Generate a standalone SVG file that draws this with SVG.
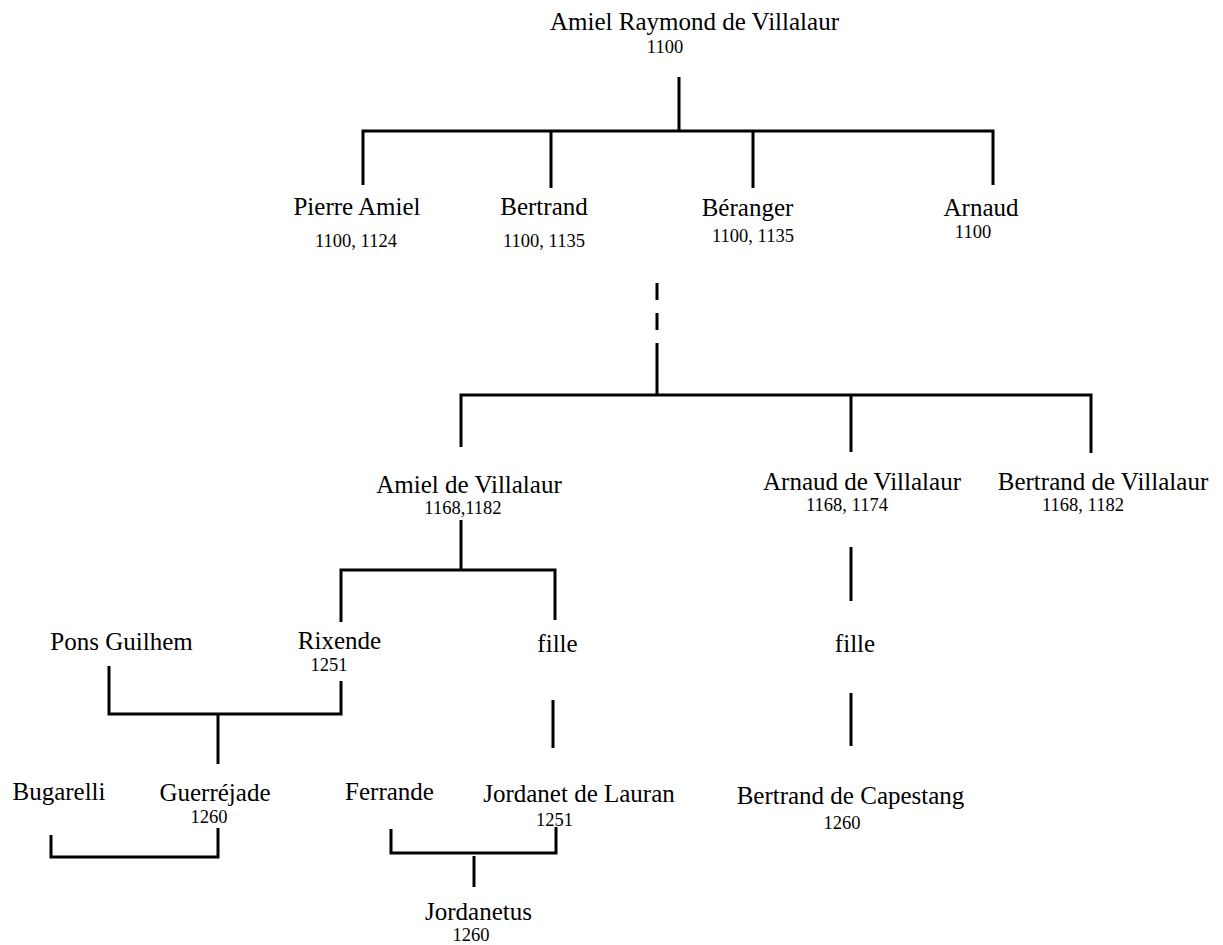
<svg xmlns="http://www.w3.org/2000/svg" width="1223" height="945" viewBox="0 0 1223 945">
<style>
.n{font-family:"Liberation Serif","Times New Roman",serif;font-size:25px;fill:#000;text-anchor:middle}
.d{font-family:"Liberation Serif","Times New Roman",serif;font-size:18.5px;fill:#000;text-anchor:middle}
.c{stroke:#000;stroke-width:3;fill:none;stroke-linecap:butt;stroke-linejoin:miter}
</style>
<rect width="1223" height="945" fill="#fff"/>
<g id="connectors" class="c">
<path d="M679 77V131M363 185V131H993V185M551 131V188M753 131V188"/>
<path d="M657 283V300M657 313V330M657 343V395M461 447V395H1091V453M851 395V452"/>
<path d="M461 520V570M341 622V570H555V620"/>
<path d="M109 666V714H341V681M218 714V764"/>
<path d="M553 700V748"/>
<path d="M851 547V601M851 693V746"/>
<path d="M51 835V857H218V828"/>
<path d="M391 829V853H556V827M474 856V887"/>
</g>
<g id="amiel-raymond"><text class="n" x="694.5" y="30">Amiel Raymond de Villalaur</text><text class="d" x="665" y="53">1100</text></g>
<g id="pierre-amiel"><text class="n" x="357" y="215">Pierre Amiel</text><text class="d" x="356" y="247">1100, 1124</text></g>
<g id="bertrand"><text class="n" x="544" y="215">Bertrand</text><text class="d" x="544" y="247">1100, 1135</text></g>
<g id="beranger"><text class="n" x="747.5" y="216">Béranger</text><text class="d" x="753" y="242">1100, 1135</text></g>
<g id="arnaud"><text class="n" x="981" y="216">Arnaud</text><text class="d" x="973" y="238">1100</text></g>
<g id="amiel-villalaur"><text class="n" x="469" y="493">Amiel de Villalaur</text><text class="d" x="463" y="514">1168,1182</text></g>
<g id="arnaud-villalaur"><text class="n" x="862" y="490">Arnaud de Villalaur</text><text class="d" x="847" y="511">1168, 1174</text></g>
<g id="bertrand-villalaur"><text class="n" x="1103" y="490">Bertrand de Villalaur</text><text class="d" x="1083" y="511">1168, 1182</text></g>
<g id="pons-guilhem"><text class="n" x="121.5" y="650">Pons Guilhem</text></g>
<g id="rixende"><text class="n" x="339.5" y="649">Rixende</text><text class="d" x="329" y="671">1251</text></g>
<g id="fille1"><text class="n" x="557.5" y="652">fille</text></g>
<g id="fille2"><text class="n" x="855" y="652">fille</text></g>
<g id="bugarelli"><text class="n" x="59" y="800">Bugarelli</text></g>
<g id="guerrejade"><text class="n" x="215" y="801">Guerréjade</text><text class="d" x="209" y="823">1260</text></g>
<g id="ferrande"><text class="n" x="389.5" y="800">Ferrande</text></g>
<g id="jordanet"><text class="n" x="579" y="802">Jordanet de Lauran</text><text class="d" x="554.5" y="826">1251</text></g>
<g id="jordanetus"><text class="n" x="478.5" y="920">Jordanetus</text><text class="d" x="471" y="941">1260</text></g>
<g id="bertrand-capestang"><text class="n" x="850.5" y="804">Bertrand de Capestang</text><text class="d" x="842" y="829">1260</text></g>
</svg>
